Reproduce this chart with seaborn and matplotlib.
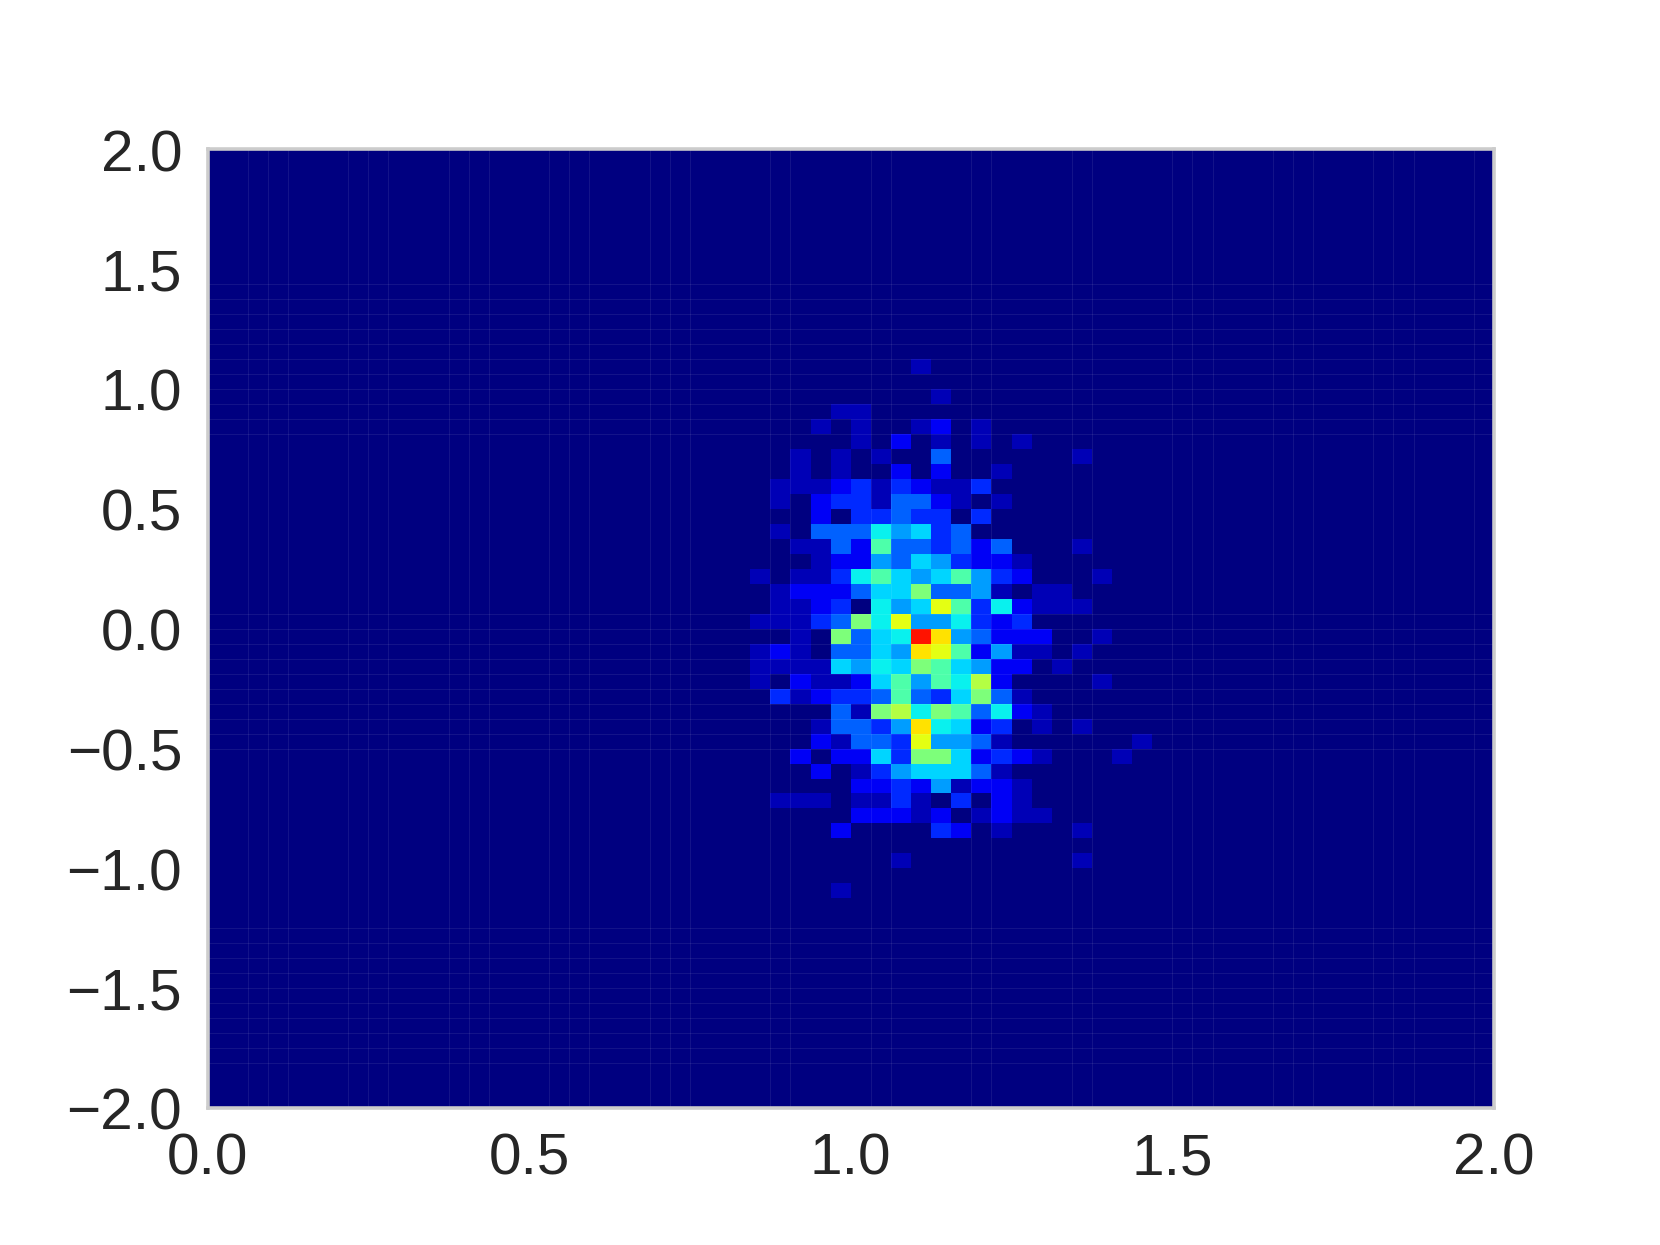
# 2d histogram on a jet colour scale
import matplotlib
matplotlib.use("Agg")
import matplotlib.pyplot as plt
from matplotlib.transforms import ScaledTranslation
import seaborn as sns
import numpy as np

n_bins = 64
first_row = 14
first_col = 26

# intensity level of each bin, rows 14-49 from the top, columns 26-46
cell_levels = np.array([
    [0,0,0,0,0,0,0,0,0,1,0,0,0,0,0,0,0,0,0,0,0],
    [0,0,0,0,0,0,0,0,0,0,0,0,0,0,0,0,0,0,0,0,0],
    [0,0,0,0,0,0,0,0,0,0,1,0,0,0,0,0,0,0,0,0,0],
    [0,0,0,0,0,1,1,0,0,0,0,0,0,0,0,0,0,0,0,0,0],
    [0,0,0,0,1,0,1,0,0,1,2,0,1,0,0,0,0,0,0,0,0],
    [0,0,0,0,0,0,1,0,2,0,1,0,1,0,1,0,0,0,0,0,0],
    [0,0,0,1,0,1,0,1,0,0,4,0,0,0,0,0,0,1,0,0,0],
    [0,0,0,1,0,1,0,0,2,0,2,0,0,1,0,0,0,0,0,0,0],
    [0,0,1,1,1,2,3,1,3,2,1,1,3,0,0,0,0,0,0,0,0],
    [0,0,1,0,2,3,3,1,4,4,2,1,0,1,0,0,0,0,0,0,0],
    [0,0,0,0,2,0,3,3,4,3,3,0,3,0,0,0,0,0,0,0,0],
    [0,0,1,0,4,4,4,7,5,6,3,4,0,0,0,0,0,0,0,0,0],
    [0,0,0,1,1,4,2,8,4,4,3,4,2,4,0,0,0,1,0,0,0],
    [0,0,0,0,1,2,2,5,4,6,5,3,2,2,1,0,0,0,0,0,0],
    [0,1,0,1,1,3,7,8,6,5,6,8,5,3,2,0,0,0,1,0,0],
    [0,0,1,2,2,2,4,6,6,9,4,4,5,1,0,1,1,0,0,0,0],
    [0,0,1,1,2,3,0,7,5,6,11,8,3,7,2,1,1,1,0,0,0],
    [0,1,1,1,3,4,9,7,11,5,5,7,3,2,3,0,0,0,0,0,0],
    [0,0,0,1,0,9,4,6,7,13,12,5,4,2,2,2,0,0,1,0,0],
    [0,1,2,1,0,4,4,6,5,12,11,8,2,5,1,1,0,1,0,0,0],
    [0,1,1,1,1,6,5,7,6,9,8,6,5,2,2,0,1,0,0,0,0],
    [0,1,0,2,1,1,2,6,8,5,8,7,10,2,0,0,0,0,1,0,0],
    [0,0,3,1,2,3,3,4,8,4,3,6,9,4,1,0,0,0,0,0,0],
    [0,0,0,0,0,4,1,9,10,7,9,8,4,7,2,1,0,0,0,0,0],
    [0,0,0,0,1,4,4,3,5,12,7,6,2,3,0,1,0,1,0,0,0],
    [0,0,0,0,2,1,4,4,3,11,5,5,4,1,0,0,0,0,0,0,1],
    [0,0,0,2,0,2,2,6,3,9,9,6,2,3,2,1,0,0,0,1,0],
    [0,0,0,0,2,0,1,3,5,6,6,6,4,1,0,0,0,0,0,0,0],
    [0,0,0,0,0,0,2,2,3,2,5,1,2,2,1,0,0,0,0,0,0],
    [0,0,1,1,1,0,1,1,3,1,0,3,0,2,1,0,0,0,0,0,0],
    [0,0,0,0,0,0,2,2,2,1,2,0,1,2,1,1,0,0,0,0,0],
    [0,0,0,0,0,2,0,0,0,0,3,2,0,1,0,0,0,1,0,0,0],
    [0,0,0,0,0,0,0,0,0,0,0,0,0,0,0,0,0,0,0,0,0],
    [0,0,0,0,0,0,0,0,1,0,0,0,0,0,0,0,0,1,0,0,0],
    [0,0,0,0,0,0,0,0,0,0,0,0,0,0,0,0,0,0,0,0,0],
    [0,0,0,0,0,1,0,0,0,0,0,0,0,0,0,0,0,0,0,0,0],
])

# where each level sits on the colour scale
level_values = np.array([0, 0.05, 0.105, 0.167, 0.222, 0.278, 0.333, 0.36,
                         0.444, 0.5, 0.57, 0.625, 0.67, 0.89])

x_labels = ["0.0", "0.5", "1.0", "1.5", "2.0"]
y_labels = ["2.0", "1.5", "1.0", "0.5", "0.0", "\u22120.5", "\u22121.0", "\u22121.5", "\u22122.0"]

# bin edges that show a faint seam in the mesh
seam_cols = [2, 3, 4, 7, 8, 9, 12, 13, 14, 17, 18, 19, 22, 23, 24, 28, 29, 33, 34,
             38, 39, 43, 44, 48, 49, 50, 53, 54, 55, 58, 59, 60, 63]
seam_rows = [9, 10, 11, 12, 13, 14, 15, 16, 17, 18, 19, 31, 32, 33, 34, 35, 36, 37,
             38, 39, 40, 52, 53, 54, 55, 56, 57, 58, 59, 60, 61]

sns.set_theme(style="whitegrid")
plt.rcParams["font.family"] = ["Liberation Sans", "DejaVu Sans"]
plt.rcParams["ytick.alignment"] = "center_baseline"

z = np.zeros((n_bins, n_bins))
rows, cols = cell_levels.shape
z[first_row:first_row + rows, first_col:first_col + cols] = level_values[cell_levels]

fig, ax = plt.subplots(figsize=(8, 6))
sns.heatmap(z, cmap="jet", vmin=0, vmax=1, cbar=False, ax=ax)
ax.vlines(seam_cols, 0, n_bins, color="white", alpha=0.08, linewidth=0.35)
ax.hlines(seam_rows, 0, n_bins, color="white", alpha=0.08, linewidth=0.35)

ax.set_xticks(np.linspace(0, n_bins, len(x_labels)))
ax.set_xticklabels(x_labels, rotation=0, fontsize=20.3)
ax.set_yticks(np.linspace(0, n_bins, len(y_labels)))
ax.set_yticklabels(y_labels, rotation=0, fontsize=20.3)
ax.tick_params(axis="x", length=0, pad=8.4)
ax.tick_params(axis="y", length=0, pad=8.8)
ax.grid(False)
for s in ax.spines.values():
    s.set_visible(True)
    s.set_color(".8")
    s.set_linewidth(1.25)

# y labels sit centred on the tick by their digits
nudge = ScaledTranslation(0, -2.3 / 72, fig.dpi_scale_trans)
for label in ax.get_yticklabels():
    label.set_transform(label.get_transform() + nudge)

fig.savefig("out.png", dpi=207.5)
